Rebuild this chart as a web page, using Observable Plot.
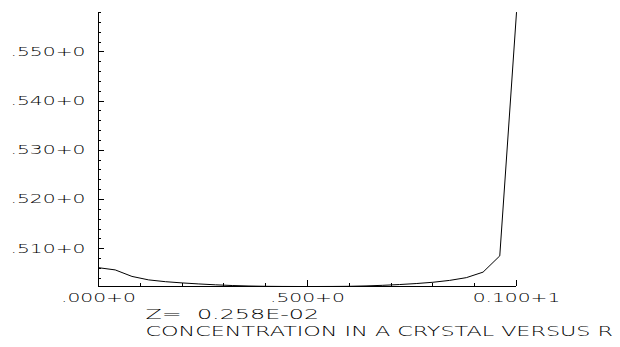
<!DOCTYPE html>
<html>
<head>
<meta charset="utf-8">
<script src="https://cdn.jsdelivr.net/npm/d3@7"></script>
<script src="https://cdn.jsdelivr.net/npm/@observablehq/plot@0.6"></script>
<style>
  html, body { margin: 0; padding: 0; background: #fff; }
  #chart svg { display: block; }
</style>
</head>
<body>
<div id="chart"></div>
<script>
// Radial position R (grid of 26 nodes) and concentration at each node
const r = [0.00, 0.04, 0.08, 0.12, 0.16, 0.20, 0.24, 0.28, 0.32, 0.36, 0.40, 0.44, 0.48,
           0.52, 0.56, 0.60, 0.64, 0.68, 0.72, 0.76, 0.80, 0.84, 0.88, 0.92, 0.96, 1.00];
const conc = [0.50614, 0.50569, 0.50437, 0.50366, 0.50330, 0.50305, 0.50284, 0.50266, 0.50252,
              0.50242, 0.50236, 0.50233, 0.50232, 0.50232, 0.50233, 0.50236, 0.50244, 0.50256,
              0.50272, 0.50292, 0.50318, 0.50356, 0.50412, 0.50524, 0.50854, 0.55800];

// Axis ticks and their printed labels
const xMajor = [0, 0.5, 1.0];
const xMajorLabels = [".000+0", ".500+0", "0.100+1"];
const xMinor = [0.1, 0.2, 0.3, 0.4, 0.6, 0.7, 0.8, 0.9];
const yMajor = [0.51, 0.52, 0.53, 0.54, 0.55];
const yMajorLabels = [".510+0", ".520+0", ".530+0", ".540+0", ".550+0"];
const yMinor = [0.504, 0.506, 0.508, 0.512, 0.514, 0.516, 0.518, 0.522, 0.524, 0.526, 0.528,
                0.532, 0.534, 0.536, 0.538, 0.542, 0.544, 0.546, 0.548, 0.552, 0.554, 0.556, 0.558];

// Caption lines
const zLabel = "Z=  0.258E-02";
const title = "CONCENTRATION IN A CRYSTAL VERSUS R";

const data = r.map((x, i) => ({r: x, c: conc[i]}));
const yDomain = d3.extent(conc);

const W = 620, H = 347;
const M = {left: 98, right: 104, top: 12, bottom: 61};
const frameW = W - M.left - M.right;
const frameH = H - M.top - M.bottom;
const crisp = {stroke: "#000", strokeWidth: 1, shapeRendering: "crispEdges"};

const chart = Plot.plot({
  width: W,
  height: H,
  marginLeft: M.left,
  marginRight: M.right,
  marginTop: M.top,
  marginBottom: M.bottom,
  style: {fontFamily: "'DejaVu Sans', sans-serif", fontWeight: 200, color: "#000", background: "#fff"},
  x: {domain: [0, 1], axis: null},
  y: {domain: yDomain, axis: null},
  marks: [
    // axis lines
    Plot.ruleX([0], crisp),
    Plot.ruleY([yDomain[0]], crisp),
    // short inward ticks: full-frame ticks trimmed down with insets
    Plot.tickX(xMinor, {x: (d) => d, insetTop: frameH - 3, ...crisp}),
    Plot.tickX(xMajor, {x: (d) => d, insetTop: frameH - 6, ...crisp}),
    Plot.tickY(yMinor, {y: (d) => d, insetRight: frameW - 3, ...crisp}),
    Plot.tickY(yMajor, {y: (d) => d, insetRight: frameW - 6, ...crisp}),
    // tick labels
    Plot.axisX(xMajor, {anchor: "bottom", tickSize: 0, tickPadding: 7, fontSize: 12.5, fill: "#000",
      tickFormat: (d) => xMajorLabels[xMajor.indexOf(d)], label: null}),
    Plot.axisY(yMajor, {anchor: "left", tickSize: 0, tickPadding: 13, fontSize: 12.5, fill: "#000",
      tickFormat: (d) => yMajorLabels[yMajor.indexOf(d)], label: null}),
    // concentration profile
    Plot.line(data, {x: "r", y: "c", stroke: "#000", strokeWidth: 1}),
    // captions below the frame
    Plot.text([zLabel], {frameAnchor: "bottom-left", dx: 47, dy: 32, text: (d) => d, textAnchor: "start",
      fontSize: 13.7, fill: "#000"}),
    Plot.text([title], {frameAnchor: "bottom-left", dx: 47, dy: 49, text: (d) => d, textAnchor: "start",
      fontSize: 13.7, fill: "#000"})
  ]
});

document.getElementById("chart").appendChild(chart);

// Wide plotter-style lettering: stretch each label horizontally to a fixed advance per character
d3.select(chart).selectAll("text").each(function () {
  const t = this.textContent;
  if (!t || !t.trim()) return;
  const isCaption = t === zLabel || t === title;
  const perChar = isCaption ? 13.35 : 12.5;
  this.style.whiteSpace = "pre";
  const xAttr = this.getAttribute("x");
  const x = xAttr !== null && isFinite(+xAttr) ? +xAttr : 0;
  if (xAttr !== null && isFinite(+xAttr)) this.removeAttribute("x");
  const w = this.getComputedTextLength();
  const s = (t.length * perChar) / w;
  const prev = this.getAttribute("transform") || "";
  this.setAttribute("transform", `${prev} translate(${x},0) scale(${s},1)`);
});
</script>
</body>
</html>
